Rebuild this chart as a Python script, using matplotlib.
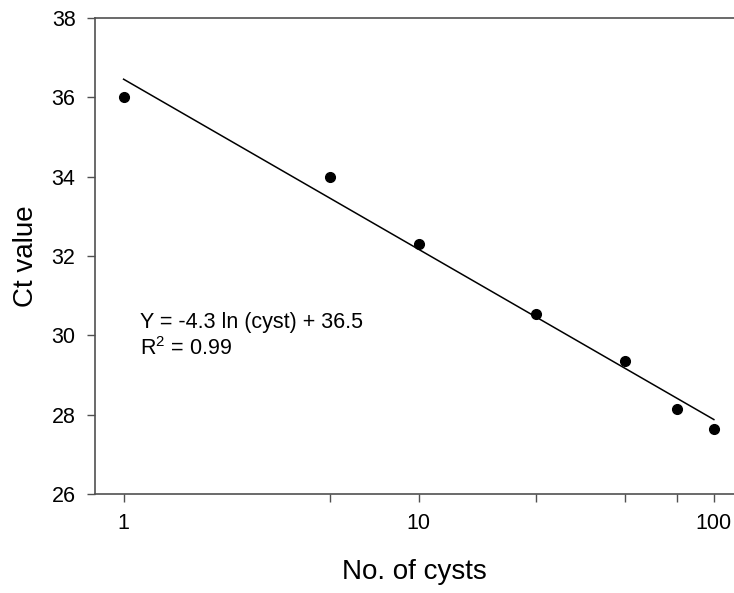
import numpy as np
import matplotlib
matplotlib.use("Agg")
import matplotlib.pyplot as plt
from matplotlib.ticker import FixedLocator, NullFormatter, NullLocator

plt.rcParams['font.family'] = ['Liberation Sans', 'DejaVu Sans']
plt.rcParams['mathtext.default'] = 'regular'

# data
cysts = [1, 5, 10, 25, 50, 75, 100]
ct_values = [36.0, 34.0, 32.3, 30.55, 29.35, 28.15, 27.65]
x_ticks = [1, 5, 10, 25, 50, 75, 100]
x_labels = ["1", "", "10", "", "", "", "100"]
y_ticks = [26, 28, 30, 32, 34, 36, 38]
equation = "Y = -4.3 ln (cyst) + 36.5"
r_squared = "R$^2$ = 0.99"

# least squares fit of Ct against ln(cysts)
slope, intercept = np.polyfit(np.log(cysts), ct_values, 1)
x_fit = np.array([cysts[0], cysts[-1]], dtype=float)
y_fit = slope * np.log(x_fit) + intercept

fig = plt.figure(figsize=(7.34, 5.93), dpi=100)
ax = fig.add_axes([95 / 734, 1 - 494 / 593, 1 - 95 / 734, (494 - 18) / 593])

ax.plot(x_fit, y_fit, color="black", lw=1.1)
ax.plot(cysts, ct_values, "o", color="black", ms=7)

ax.set_xscale("log")
ax.set_xlim(0.8, 117)
ax.set_ylim(26, 38)
ax.xaxis.set_major_locator(FixedLocator(x_ticks))
ax.set_xticklabels(x_labels)
ax.xaxis.set_minor_locator(NullLocator())
ax.xaxis.set_minor_formatter(NullFormatter())
ax.set_yticks(y_ticks)

spine_col = "#505050"
for s in ["left", "bottom", "top"]:
    ax.spines[s].set_color(spine_col)
    ax.spines[s].set_linewidth(1.2)
ax.spines["right"].set_visible(False)
ax.tick_params(axis="both", direction="out", length=6, width=1.0,
               color=spine_col, labelsize=15.5, pad=8)

ax.set_xlabel("No. of cysts", fontsize=20, labelpad=18)
ax.set_ylabel("Ct value", fontsize=20, labelpad=9)

ax.text(1.14, 30.19, equation, fontsize=15.5, va="baseline", ha="left")
ax.text(1.14, 29.5, r_squared, fontsize=15.5, va="baseline", ha="left")

fig.savefig("out.png", dpi=100)
